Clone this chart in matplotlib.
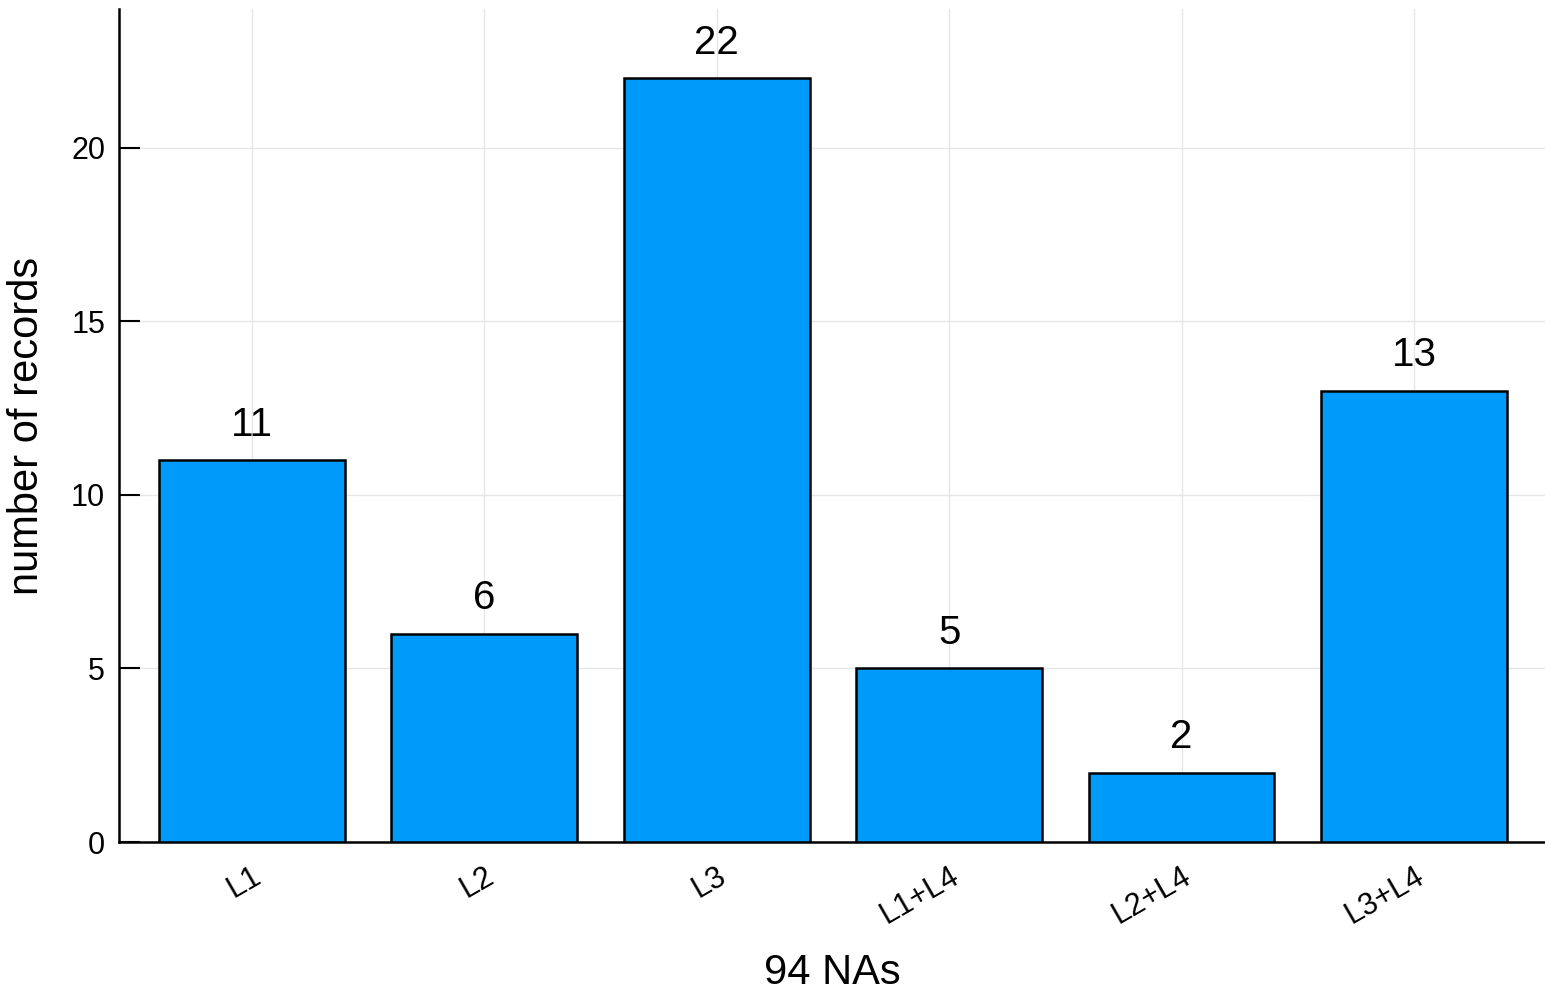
import matplotlib
matplotlib.use("Agg")
import matplotlib.pyplot as plt
import numpy as np

plt.rcParams["font.family"] = ["Liberation Sans", "DejaVu Sans"]

categories = ["L1", "L2", "L3", "L1+L4", "L2+L4", "L3+L4"]
counts = [11, 6, 22, 5, 2, 13]

BAR_COLOR = "#009AFA"

fig = plt.figure(figsize=(15.45, 9.92), dpi=100)
ax = fig.add_axes([119 / 1545, 1 - 842 / 992, 1 - 119 / 1545, (842 - 9) / 992])

x = np.arange(len(categories))
bars = ax.bar(x, counts, 0.8, color=BAR_COLOR, edgecolor="black", linewidth=1.8, zorder=3)
for b, v in zip(bars, counts):
    ax.annotate(f"{v}", (b.get_x() + b.get_width() / 2, v), xytext=(0, 12),
                textcoords="offset points", ha="center", va="bottom", fontsize=29)

ax.set_xlim(-0.572, 5.564)
ax.set_ylim(0, 24.0)
ax.set_yticks([0, 5, 10, 15, 20])
ax.set_xticks(x)
ax.set_xticklabels(categories, rotation=30, ha="right", rotation_mode="anchor", fontsize=22)
ax.tick_params(axis="y", direction="in", length=15, width=1.5, labelsize=22, pad=10)
ax.tick_params(axis="x", length=0, pad=14)

ax.grid(True, color="#e6e6e6", linewidth=1, zorder=0)
for s in ["top", "right"]:
    ax.spines[s].set_visible(False)
for s in ["left", "bottom"]:
    ax.spines[s].set_linewidth(1.8)

ax.set_xlabel("94 NAs", fontsize=30, labelpad=16)
ax.set_ylabel("number of records", fontsize=30, labelpad=17)

fig.savefig("out.png", dpi=100)
